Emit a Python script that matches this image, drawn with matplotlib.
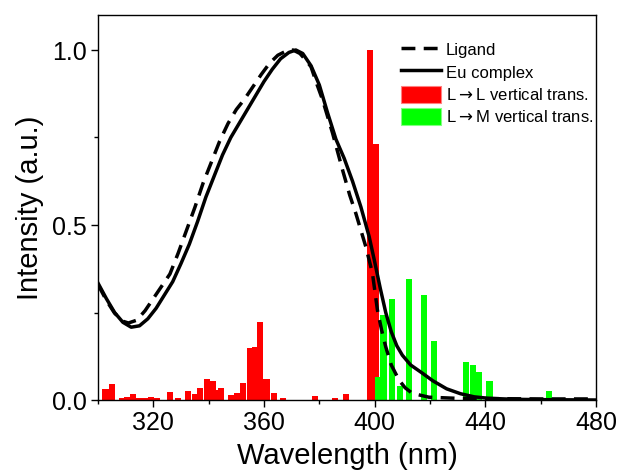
import numpy as np
import matplotlib
matplotlib.use('Agg')
import matplotlib.pyplot as plt
from matplotlib.patches import Patch
from matplotlib.lines import Line2D
from matplotlib.ticker import MultipleLocator

plt.rcParams['font.family'] = ['Liberation Sans', 'DejaVu Sans']

# Ligand absorption (dashed)
lig_wl = [300, 303, 306, 309, 311, 314, 317, 320, 323, 326, 329, 332, 335,
          338, 341, 344, 347, 350, 353, 356, 359, 362, 365, 368, 370.5, 373,
          375, 377, 379, 381.2, 384.8, 388.4, 391, 393.2, 396.8, 399.2, 401,
          402.5, 404, 406, 408.8, 411, 413.6, 419.6, 429, 440, 460, 480]
lig_int = [0.33, 0.285, 0.248, 0.225, 0.22, 0.228, 0.255, 0.29, 0.325, 0.36,
           0.42, 0.485, 0.55, 0.62, 0.68, 0.74, 0.79, 0.83, 0.86, 0.895, 0.93,
           0.962, 0.985, 0.997, 1.0, 0.99, 0.972, 0.952, 0.905, 0.857, 0.762,
           0.657, 0.585, 0.533, 0.438, 0.362, 0.257, 0.2, 0.152, 0.1, 0.057,
           0.035, 0.019, 0.008, 0.005, 0.004, 0.003, 0.003]

# Eu complex absorption (solid)
eu_wl = [300, 303, 306, 309, 312, 315, 318, 321, 324, 327, 330, 333, 336,
         339, 342, 345, 348, 351, 354, 357, 360, 363, 366, 369, 371.5, 374,
         377, 380, 383, 386, 389, 392, 395, 398, 400, 402, 404, 406, 408, 410,
         413, 417, 421, 426, 431, 436, 441, 450, 460, 480]
eu_int = [0.334, 0.29, 0.25, 0.222, 0.208, 0.212, 0.232, 0.262, 0.3, 0.338,
          0.39, 0.445, 0.51, 0.58, 0.64, 0.7, 0.75, 0.79, 0.83, 0.87, 0.91,
          0.945, 0.975, 0.993, 1.0, 0.99, 0.955, 0.9, 0.82, 0.745, 0.69,
          0.625, 0.552, 0.467, 0.395, 0.32, 0.25, 0.195, 0.155, 0.128, 0.1,
          0.078, 0.055, 0.032, 0.018, 0.009, 0.005, 0.002, 0.001, 0.0]

# L->L vertical transitions (red bars)
ll_wl = [302.7, 304.9, 308.8, 310.5, 312.7, 314.8, 316.8, 319.1, 321.3, 326.0,
         329.0, 332.6, 335.0, 337.0, 339.4, 341.4, 343.0, 344.6, 348.0, 350.2,
         352.4, 354.8, 356.8, 358.7, 360.9, 363.7, 367.0, 378.4, 385.8, 389.6,
         398.4, 400.3]
ll_int = [0.032, 0.045, 0.005, 0.009, 0.017, 0.005, 0.007, 0.010, 0.007, 0.024,
          0.005, 0.025, 0.016, 0.035, 0.060, 0.054, 0.028, 0.034, 0.013, 0.019,
          0.050, 0.150, 0.152, 0.224, 0.059, 0.019, 0.007, 0.011, 0.007, 0.016,
          1.0, 0.73]

# L->M vertical transitions (green bars)
lm_wl = [401.4, 403.2, 406.3, 409.1, 412.3, 417.8, 421.4, 433.1, 435.6, 437.8,
         441.5, 462.9]
lm_int = [0.065, 0.243, 0.288, 0.041, 0.345, 0.30, 0.169, 0.108, 0.10, 0.081,
          0.054, 0.027]

RED = '#ff0000'
GREEN = '#00ff00'

fig = plt.figure(figsize=(6.22, 4.73), dpi=100)
ax = fig.add_axes([98 / 622, 1 - 400 / 473, 498 / 622, 385 / 473])

ax.bar(ll_wl, ll_int, width=2.2, color=RED, edgecolor='none', zorder=1)
ax.bar(lm_wl, lm_int, width=2.2, color=GREEN, edgecolor='none', zorder=1)

ax.plot(lig_wl, lig_int, color='black', lw=2.5, dashes=(4, 2.4), zorder=3)
ax.plot(eu_wl, eu_int, color='black', lw=2.5, zorder=3)

ax.set_xlim(300, 480)
ax.set_ylim(0, 1.1)
ax.xaxis.set_major_locator(MultipleLocator(40))
ax.xaxis.set_minor_locator(MultipleLocator(20))
ax.yaxis.set_major_locator(MultipleLocator(0.5))
ax.yaxis.set_minor_locator(MultipleLocator(0.25))
ax.yaxis.set_major_formatter(plt.FuncFormatter(lambda v, p: f'{v:.1f}'))
ax.tick_params(which='major', direction='out', length=5, width=1,
               labelsize=18, pad=3)
ax.tick_params(which='minor', direction='out', length=3, width=1)
for s in ax.spines.values():
    s.set_linewidth(1)

ax.set_xlabel('Wavelength (nm)', fontsize=21, labelpad=5)
ax.set_ylabel('Intensity (a.u.)', fontsize=21, labelpad=6)

handles = [
    Line2D([], [], color='black', lw=2.5, dashes=(4, 2.4)),
    Line2D([], [], color='black', lw=2.5),
    Patch(facecolor=RED, edgecolor='#ff8080', lw=0.8),
    Patch(facecolor=GREEN, edgecolor='#80ff80', lw=0.8),
]
labels = ['Ligand', 'Eu complex', 'L$\\rightarrow$L vertical trans.',
          'L$\\rightarrow$M vertical trans.']
ax.legend(handles, labels, loc='upper left', bbox_to_anchor=(0.608, 0.932),
          frameon=False, fontsize=12, borderpad=0, borderaxespad=0,
          handlelength=2.4, handleheight=1.2, handletextpad=0.3,
          labelspacing=0.3)

fig.savefig('out.png', dpi=100)
